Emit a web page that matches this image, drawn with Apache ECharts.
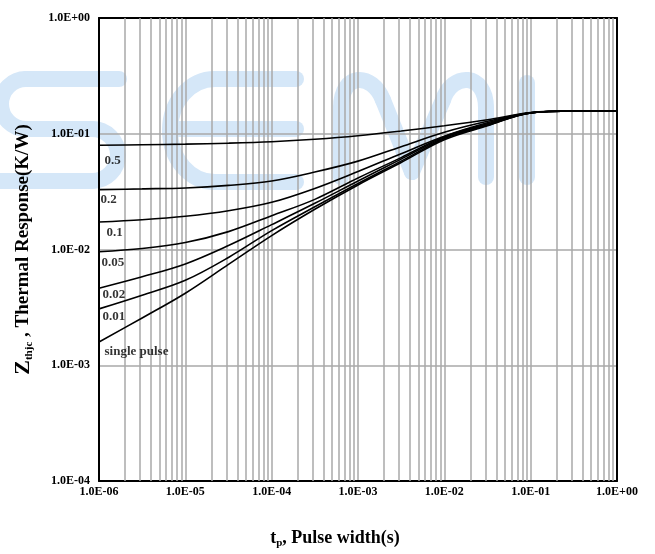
<!DOCTYPE html>
<html><head><meta charset="utf-8">
<script src="https://cdn.jsdelivr.net/npm/echarts@6/dist/echarts.min.js"></script>
<style>html,body{margin:0;padding:0;background:#fff}#c{width:655px;height:554px}</style>
</head><body><div id="c"></div>
<script>
// ---- data (half-decade steps) ----
const pulseWidths = [1e-6, 3.16e-6, 1e-5, 3.16e-5, 1e-4, 3.16e-4, 1e-3, 3.16e-3, 1e-2, 3.16e-2, 1e-1, 3.16e-1, 1];
const seriesNames = ['0.5', '0.2', '0.1', '0.05', '0.02', '0.01', 'single pulse'];
const zthD050 = [0.0796, 0.0803, 0.0813, 0.0829, 0.0854, 0.0897, 0.0961, 0.1055, 0.1171, 0.1319, 0.1525, 0.157, 0.157];
const zthD020 = [0.0329, 0.0334, 0.0340, 0.0358, 0.0391, 0.0467, 0.0580, 0.0773, 0.1030, 0.1280, 0.1520, 0.157, 0.157];
const zthD010 = [0.0173, 0.0181, 0.01939, 0.02162, 0.02557, 0.0337, 0.0472, 0.0673, 0.0952, 0.1243, 0.1518, 0.157, 0.157];
const zthD005 = [0.00956, 0.0102, 0.01148, 0.01427, 0.01958, 0.0271, 0.0415, 0.0622, 0.0942, 0.1218, 0.1516, 0.157, 0.157];
const zthD002 = [0.00463, 0.00581, 0.00751, 0.01082, 0.0164, 0.02506, 0.0391, 0.0604, 0.0924, 0.1195, 0.1515, 0.157, 0.157];
const zthD001 = [0.00307, 0.00403, 0.00542, 0.00854, 0.01456, 0.02339, 0.0372, 0.0580, 0.0906, 0.1183, 0.1515, 0.157, 0.157];
const zthSingle = [0.00159, 0.00256, 0.00419, 0.00743, 0.01319, 0.02226, 0.0361, 0.0564, 0.0888, 0.1171, 0.1513, 0.157, 0.157];
const xTickLabels = ['1.0E-06', '1.0E-05', '1.0E-04', '1.0E-03', '1.0E-02', '1.0E-01', '1.0E+00'];
const yTickLabels = ['1.0E-04', '1.0E-03', '1.0E-02', '1.0E-01', '1.0E+00'];

// ---- styling ----
const seriesValues = [zthD050, zthD020, zthD010, zthD005, zthD002, zthD001, zthSingle];
const labelOffsets = [[5, 15.5], [1, 10], [7, 11], [2, 11], [3, 6], [3, 7.5], [5, 10]];
const FONT = '"Liberation Serif","Times New Roman",serif';
const GRID_GRAY = '#a8a8a8';
const WM = '#d5e7f8';
const X_MIN = 1e-6, X_MAX = 1, Y_MIN = 1e-4, Y_MAX = 1;

// minor vertical gridlines at 2..9 x 10^k
const minorX = [];
for (let e = -6; e < 0; e++) for (let m = 2; m <= 9; m++) minorX.push(m * Math.pow(10, e));

const lineSeries = seriesValues.map((vals, i) => ({
  name: seriesNames[i], type: 'line', xAxisIndex: 0, yAxisIndex: 0,
  data: pulseWidths.map((x, j) => [x, vals[j]]),
  showSymbol: false, symbol: 'none', smooth: 0.35,
  lineStyle: { color: '#000', width: 1.6 }, z: 3, silent: true
}));

const labelSeries = {
  type: 'scatter', xAxisIndex: 0, yAxisIndex: 0, symbolSize: 1, z: 4, silent: true,
  itemStyle: { color: 'rgba(0,0,0,0)' },
  label: { show: true, position: 'right', distance: 0, color: '#000', fontFamily: FONT, fontWeight: 'bold', fontSize: 13 },
  data: seriesValues.map((vals, i) => ({
    value: [pulseWidths[0], vals[0]],
    label: { offset: labelOffsets[i], formatter: seriesNames[i] }
  }))
};

const minorGridSeries = {
  type: 'lines', coordinateSystem: 'cartesian2d', xAxisIndex: 0, yAxisIndex: 0,
  silent: true, z: 1, polyline: false,
  lineStyle: { color: GRID_GRAY, width: 1.5, opacity: 1, type: 'solid' },
  data: minorX.map(v => ({ coords: [[v, Y_MIN], [v, Y_MAX]] }))
};

const wmStyle = { stroke: WM, lineWidth: 16, lineCap: 'round', fill: null };
const wm = (el) => Object.assign({ z: -1, silent: true, style: wmStyle }, el);
const watermark = [
  // S
  wm({ type: 'line', shape: { x1: 119, y1: 79, x2: 26, y2: 79 } }),
  wm({ type: 'arc', shape: { cx: 26, cy: 104, r: 25, startAngle: Math.PI / 2, endAngle: Math.PI * 1.5, clockwise: true } }),
  wm({ type: 'line', shape: { x1: 26, y1: 129, x2: 92, y2: 129 } }),
  wm({ type: 'arc', shape: { cx: 92, cy: 155, r: 26, startAngle: -Math.PI / 2, endAngle: Math.PI / 2, clockwise: true } }),
  wm({ type: 'line', shape: { x1: 92, y1: 181, x2: -10, y2: 181 } }),
  // E
  wm({ type: 'line', shape: { x1: 296, y1: 79, x2: 215, y2: 79 } }),
  wm({ type: 'bezierCurve', shape: { x1: 215, y1: 79, cpx1: 190, cpy1: 79, cpx2: 170, cpy2: 102, x2: 170, y2: 130.5 } }),
  wm({ type: 'bezierCurve', shape: { x1: 170, y1: 130.5, cpx1: 170, cpy1: 159, cpx2: 190, cpy2: 182, x2: 215, y2: 182 } }),
  wm({ type: 'line', shape: { x1: 215, y1: 182, x2: 296, y2: 182 } }),
  wm({ type: 'line', shape: { x1: 172, y1: 129, x2: 296, y2: 129 } }),
  // M
  wm({ type: 'line', shape: { x1: 341, y1: 177, x2: 341, y2: 108 } }),
  wm({ type: 'bezierCurve', shape: { x1: 341, y1: 108, cpx1: 341, cpy1: 72, cpx2: 372, cpy2: 72, x2: 383, y2: 100 } }),
  wm({ type: 'line', shape: { x1: 383, y1: 100, x2: 412, y2: 172 } }),
  wm({ type: 'line', shape: { x1: 412, y1: 172, x2: 443, y2: 100 } }),
  wm({ type: 'bezierCurve', shape: { x1: 443, y1: 100, cpx1: 452, cpy1: 72, cpx2: 486, cpy2: 72, x2: 486, y2: 108 } }),
  wm({ type: 'line', shape: { x1: 486, y1: 108, x2: 486, y2: 177 } }),
  // I
  wm({ type: 'line', shape: { x1: 527, y1: 83, x2: 527, y2: 177 } })
];

const tickLabelStyle = { color: '#000', fontFamily: FONT, fontWeight: 'bold', fontSize: 12 };
const borderAxisLine = { show: true, lineStyle: { color: '#000', width: 2 } };

const option = {
  animation: false,
  backgroundColor: '#fff',
  grid: { left: 99, right: 38, top: 18, bottom: 70, containLabel: false },
  graphic: { elements: watermark },
  xAxis: [{
    type: 'log', logBase: 10, min: X_MIN, max: X_MAX, position: 'bottom',
    axisLine: borderAxisLine, axisTick: { show: false },
    axisLabel: Object.assign({ margin: 5, formatter: v => xTickLabels[Math.round(Math.log10(v)) + 6] }, tickLabelStyle),
    splitLine: { show: true, lineStyle: { color: GRID_GRAY, width: 1.5 } },
    name: '{t|t}{s|p}{n|, Pulse width(s)}', nameLocation: 'middle', nameGap: 46,
    nameTextStyle: {
      color: '#000', fontFamily: FONT, fontWeight: 'bold', padding: [0, 46, 0, 0],
      rich: {
        t: { fontSize: 18, fontFamily: FONT, fontWeight: 'bold', color: '#000', lineHeight: 22 },
        s: { fontSize: 11, fontFamily: FONT, fontWeight: 'bold', color: '#000', lineHeight: 11, verticalAlign: 'bottom' },
        n: { fontSize: 18, fontFamily: FONT, fontWeight: 'bold', color: '#000', lineHeight: 22 }
      }
    }
  }, {
    type: 'log', logBase: 10, min: X_MIN, max: X_MAX, position: 'top',
    axisLine: borderAxisLine, axisTick: { show: false }, axisLabel: { show: false }, splitLine: { show: false }
  }],
  yAxis: [{
    type: 'log', logBase: 10, min: Y_MIN, max: Y_MAX, position: 'left',
    axisLine: borderAxisLine, axisTick: { show: false },
    axisLabel: Object.assign({ margin: 9, formatter: v => yTickLabels[Math.round(Math.log10(v)) + 4] }, tickLabelStyle),
    splitLine: { show: true, lineStyle: { color: GRID_GRAY, width: 1.5 } },
    name: '{z|Z}{s|thjc}{n| , Thermal Response(K/W)}', nameLocation: 'middle', nameGap: 64, nameRotate: 90,
    nameTextStyle: {
      color: '#000', fontFamily: FONT, fontWeight: 'bold',
      rich: {
        z: { fontSize: 22, fontFamily: FONT, fontWeight: 'bold', color: '#000', lineHeight: 24 },
        s: { fontSize: 11, fontFamily: FONT, fontWeight: 'bold', color: '#000', lineHeight: 11, verticalAlign: 'bottom' },
        n: { fontSize: 19, fontFamily: FONT, fontWeight: 'bold', color: '#000', lineHeight: 24 }
      }
    }
  }, {
    type: 'log', logBase: 10, min: Y_MIN, max: Y_MAX, position: 'right',
    axisLine: borderAxisLine, axisTick: { show: false }, axisLabel: { show: false }, splitLine: { show: false }
  }],
  series: [minorGridSeries].concat(lineSeries, [labelSeries])
};

const chart = echarts.init(document.getElementById('c'), null, { renderer: 'canvas', width: 655, height: 554 });
chart.setOption(option);
</script>
</body></html>
